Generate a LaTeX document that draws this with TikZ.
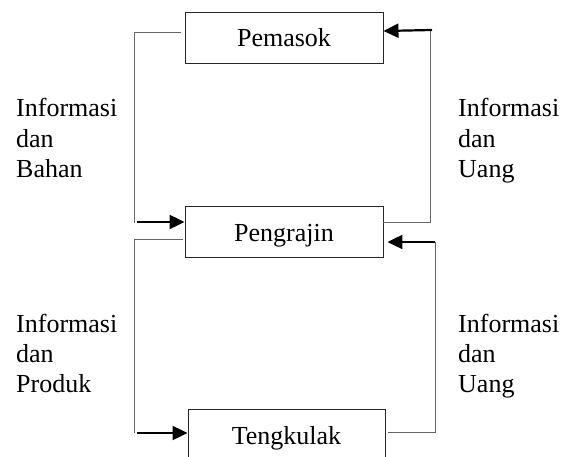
\documentclass[tikz,border=0pt]{standalone}
\usepackage{fontspec}
\setmainfont{Liberation Serif}
\usetikzlibrary{arrows.meta,calc}
\begin{document}
\begin{tikzpicture}[x=1pt,y=-1pt,
  box/.style={draw=black!85,line width=0.9pt,inner sep=0pt,minimum width=198pt,minimum height=51pt,text depth=0pt,font=\fontsize{26}{30.5}\selectfont},
  lbl/.style={anchor=base west,align=left,inner sep=0pt,font=\fontsize{26}{30.5}\selectfont},
  link/.style={draw=black!60,line width=1pt},
  arr/.style={draw=black,line width=2.2pt,-{Triangle[length=15pt,width=14pt]}}]
\useasboundingbox[fill=white] (0,0) rectangle (563,457);
% boxes
\node[box,text height=19pt] (pemasok) at (284,37.5) {Pemasok};
\node[box,text height=21pt] (pengrajin) at (284,231.5) {Pengrajin};
\node[box,text height=19pt,minimum width=197pt] (tengkulak) at (286.5,434.5) {Tengkulak};
% labels (anchored at the baseline of the last line)
\node[lbl] (l1) at (16,178) {Informasi\\dan\\Bahan};
\node[lbl] (l2) at (458,178) {Informasi\\dan\\Uang};
\node[lbl] (l3) at (16,393) {Informasi\\dan\\Produk};
\node[lbl] (l4) at (458,393) {Informasi\\dan\\Uang};
% corner coordinates
\coordinate (a1) at (134,33);
\coordinate (a2) at (134,223);
\coordinate (a3) at (137,222);
\coordinate (b1) at (430,223);
\coordinate (b2) at (430,29);
\coordinate (b3) at (432,30);
\coordinate (c1) at (134,240);
\coordinate (c2) at (134,433);
\coordinate (c3) at (137,433);
\coordinate (d1) at (435,433);
\coordinate (d2) at (435,242);
% Pemasok -> Pengrajin
\draw[link] ($(pemasok.west |- a1)+(-4,0)$) -- (a1) -- (a2);
\draw[arr] (a3) -- (a3 -| pengrajin.west);
% Pengrajin -> Pemasok
\draw[link] (pengrajin.east |- b1) -- (b1) -- (b2);
\draw[arr] (b3) -- ($(pemasok.east |- b3)+(0,1)$);
% Pengrajin -> Tengkulak
\draw[link] ($(pengrajin.west |- c1)+(-2,0)$) -- (c1) -- (c2);
\draw[arr] (c3) -- (c3 -| tengkulak.west);
% Tengkulak -> Pengrajin
\draw[link] ($(tengkulak.east |- d1)+(3,0)$) -- (d1) -- (d2);
\draw[arr,shorten >=4pt] (d2) -- (d2 -| pengrajin.east);
\end{tikzpicture}
\end{document}
